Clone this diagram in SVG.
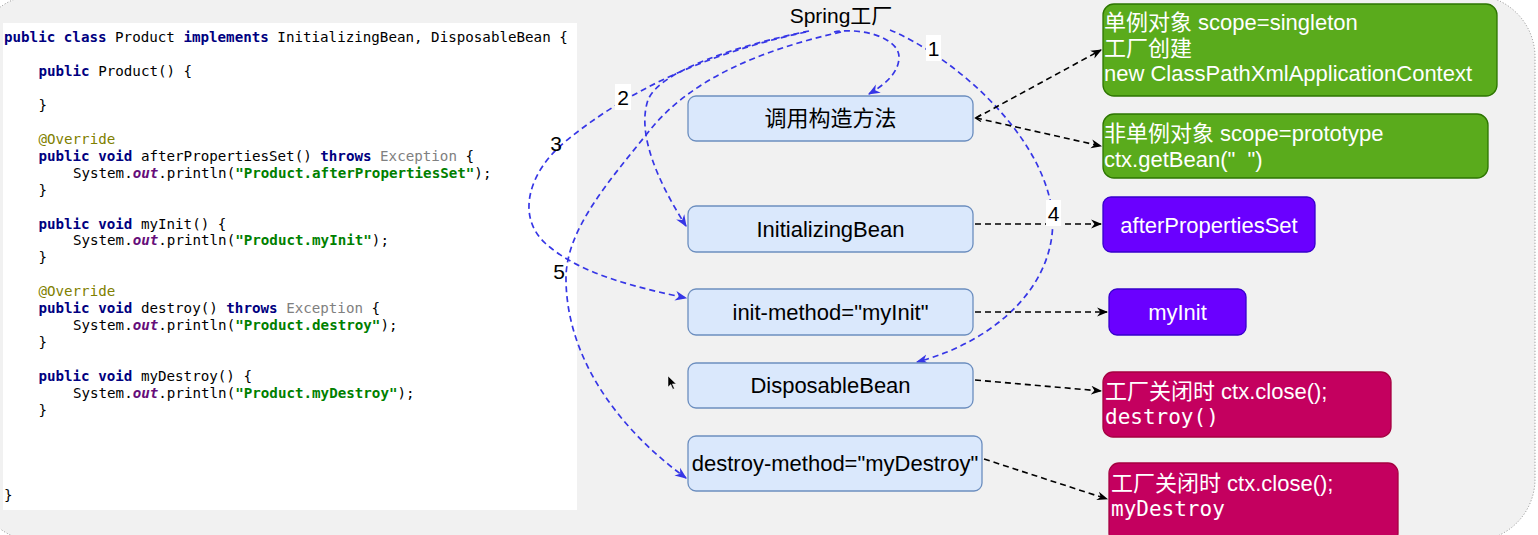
<svg xmlns="http://www.w3.org/2000/svg" width="1538" height="535" viewBox="0 0 1538 535">
<style>
.code{font-family:"DejaVu Sans Mono","Liberation Mono",monospace;font-size:14.2px;fill:#000}
.kw{font-weight:bold;fill:#000080}
.ann{fill:#808000}
.gr{fill:#808080}
.out{font-weight:bold;font-style:italic;fill:#660e7a}
.str{font-weight:bold;fill:#008000}
.bbox{fill:#dae8fc;stroke:#6c8ebf;stroke-width:1.3}
.gbox{fill:#5aab1c;stroke:#2d7600;stroke-width:1.3}
.pbox{fill:#6a00ff;stroke:#3700cc;stroke-width:1.3}
.mbox{fill:#c4005f;stroke:#a50040;stroke-width:1.3}
.t{font-family:"Liberation Sans","Noto Sans CJK SC",sans-serif;font-size:22px;fill:#000}
.w{fill:#fff}
.mono{font-family:"DejaVu Sans Mono","Liberation Mono",monospace;font-size:21px;fill:#fff}
.blue{fill:none;stroke:#3636e6;stroke-width:1.7;stroke-dasharray:6 4}
.blk{fill:none;stroke:#000;stroke-width:1.6;stroke-dasharray:6 4}
.num{font-family:"Liberation Sans",sans-serif;font-size:21px;fill:#000}
</style>
<defs>
<marker id="ab" viewBox="0 0 10 10" refX="9" refY="5" markerWidth="11" markerHeight="11" markerUnits="userSpaceOnUse" orient="auto"><path d="M0,1 L10,5 L0,9 L3,5 z" fill="#000"/></marker>
<marker id="ub" viewBox="0 0 10 10" refX="9" refY="5" markerWidth="12" markerHeight="12" markerUnits="userSpaceOnUse" orient="auto"><path d="M0,1 L10,5 L0,9 L3,5 z" fill="#3636e6"/></marker>
</defs>
<rect x="0" y="0" width="1538" height="535" fill="#fff"/>
<rect x="-25" y="-5" width="1560" height="546" rx="62" fill="#f1f1f1" stroke="#8a8a8a" stroke-width="1" stroke-dasharray="1 2"/>
<g id="code">
<rect x="3" y="23" width="574" height="487" fill="#fff"/>
<text class="code" x="4" y="42"><tspan class="kw">public</tspan> <tspan class="kw">class</tspan> Product <tspan class="kw">implements</tspan> InitializingBean, DisposableBean {</text>
<text class="code" x="38.4" y="75.9"><tspan class="kw">public</tspan> Product() {</text>
<text class="code" x="38.4" y="109.8">}</text>
<text class="code ann" x="38.4" y="143.7">@Override</text>
<text class="code" x="38.4" y="160.7"><tspan class="kw">public</tspan> <tspan class="kw">void</tspan> afterPropertiesSet() <tspan class="kw">throws</tspan> <tspan class="gr">Exception</tspan> {</text>
<text class="code" x="72.9" y="177.6">System.<tspan class="out">out</tspan>.println(<tspan class="str">"Product.afterPropertiesSet"</tspan>);</text>
<text class="code" x="38.4" y="194.6">}</text>
<text class="code" x="38.4" y="228.5"><tspan class="kw">public</tspan> <tspan class="kw">void</tspan> myInit() {</text>
<text class="code" x="72.9" y="245.4">System.<tspan class="out">out</tspan>.println(<tspan class="str">"Product.myInit"</tspan>);</text>
<text class="code" x="38.4" y="262.4">}</text>
<text class="code ann" x="38.4" y="296.3">@Override</text>
<text class="code" x="38.4" y="313.2"><tspan class="kw">public</tspan> <tspan class="kw">void</tspan> destroy() <tspan class="kw">throws</tspan> <tspan class="gr">Exception</tspan> {</text>
<text class="code" x="72.9" y="330.2">System.<tspan class="out">out</tspan>.println(<tspan class="str">"Product.destroy"</tspan>);</text>
<text class="code" x="38.4" y="347.1">}</text>
<text class="code" x="38.4" y="381"><tspan class="kw">public</tspan> <tspan class="kw">void</tspan> myDestroy() {</text>
<text class="code" x="72.9" y="398">System.<tspan class="out">out</tspan>.println(<tspan class="str">"Product.myDestroy"</tspan>);</text>
<text class="code" x="38.4" y="415">}</text>
<text class="code" x="4" y="499.6">}</text>
</g>
<g id="spring">
<text x="841" y="23" text-anchor="middle" font-family="Liberation Sans,Noto Sans CJK SC,sans-serif" font-size="21" fill="#000">Spring工厂</text>
</g>
<g id="connectors">
<path class="blue" d="M834,32 C862,27 899,38 899,57 C899,72 886,84 869,94" marker-end="url(#ub)"/>
<path class="blue" d="M809,31 C740,45 660,70 648,100 C636,135 660,185 686,226" marker-end="url(#ub)"/>
<path class="blue" d="M806,32 C730,48 640,80 566,141 C530,170 515,215 545,243 C580,275 640,288 686,298" marker-end="url(#ub)"/>
<path class="blue" d="M890,30 C950,55 1040,130 1052,210 C1060,280 1000,340 917,362" marker-end="url(#ub)"/>
<path class="blue" d="M841,32 C760,50 690,80 650,130 C610,180 565,230 566,280 C567,360 620,430 686,478" marker-end="url(#ub)"/>
<path class="blk" d="M976,118 L1101,50" marker-end="url(#ab)"/>
<path class="blk" d="M976,118 L1101,146" marker-end="url(#ab)"/>
<path d="M981,114.5 L975.5,118 L981,121.5" fill="none" stroke="#000" stroke-width="1.3"/>
<path class="blk" d="M975,224 L1101,224" marker-end="url(#ab)"/>
<path class="blk" d="M975,312 L1107,312" marker-end="url(#ab)"/>
<path class="blk" d="M975,380 L1101,391" marker-end="url(#ab)"/>
<path class="blk" d="M984,459 L1107,499" marker-end="url(#ab)"/>
<rect x="926" y="35" width="15" height="26" fill="#fff"/>
<text class="num" x="933.5" y="56" text-anchor="middle">1</text>
<rect x="615" y="84" width="16" height="26" fill="#fff"/>
<text class="num" x="623" y="105" text-anchor="middle">2</text>
<text class="num" x="556" y="151" text-anchor="middle">3</text>
<rect x="1046" y="200" width="15" height="26" fill="#fff"/>
<text class="num" x="1053.5" y="221" text-anchor="middle">4</text>
<text class="num" x="559" y="279" text-anchor="middle">5</text>
</g>
<g id="n-construct"><rect class="bbox" x="688" y="96" width="285" height="45" rx="8"/><text class="t" x="830.5" y="126" text-anchor="middle">调用构造方法</text></g>
<g id="n-initbean"><rect class="bbox" x="688" y="206" width="285" height="46" rx="8"/><text class="t" x="830.5" y="236.5" text-anchor="middle">InitializingBean</text></g>
<g id="n-initmethod"><rect class="bbox" x="688" y="289" width="285" height="46" rx="8"/><text class="t" x="830.5" y="319.5" text-anchor="middle">init-method="myInit"</text></g>
<g id="n-dispbean"><rect class="bbox" x="688" y="363" width="285" height="45" rx="8"/><text class="t" x="830.5" y="393" text-anchor="middle">DisposableBean</text></g>
<g id="n-destroymethod"><rect class="bbox" x="688" y="436" width="294" height="55" rx="8"/><text class="t" x="835" y="471" text-anchor="middle">destroy-method="myDestroy"</text></g>
<g id="n-singleton"><rect class="gbox" x="1103" y="4" width="394" height="92" rx="11"/><text class="t w" x="1104" y="30">单例对象 scope=singleton</text><text class="t w" x="1104" y="56">工厂创建</text><text class="t w" x="1104" y="81">new ClassPathXmlApplicationContext</text></g>
<g id="n-prototype"><rect class="gbox" x="1103" y="114" width="385" height="64" rx="11"/><text class="t w" x="1104" y="141">非单例对象 scope=prototype</text><text class="t w" x="1104" y="167">ctx.getBean("&#160;&#160;")</text></g>
<g id="n-afterprops"><rect class="pbox" x="1103" y="197" width="212" height="55" rx="8"/><text class="t w" x="1209" y="232.5" text-anchor="middle">afterPropertiesSet</text></g>
<g id="n-myinit"><rect class="pbox" x="1109" y="289" width="137" height="46" rx="8"/><text class="t w" x="1177.5" y="319.5" text-anchor="middle">myInit</text></g>
<g id="n-destroy"><rect class="mbox" x="1103" y="372" width="288" height="65" rx="10"/><text class="t w" x="1105" y="399">工厂关闭时 ctx.close();</text><text class="mono" x="1105" y="424">destroy()</text></g>
<g id="n-mydestroy"><rect class="mbox" x="1109" y="463" width="289" height="80" rx="10"/><text class="t w" x="1111" y="491">工厂关闭时 ctx.close();</text><text class="mono" x="1111" y="516">myDestroy</text></g>
<path d="M668,376 L668,387 L670.8,384.5 L672.8,389.2 L674.4,388.5 L672.4,383.9 L676.2,383.9 Z" fill="#000" stroke="#fff" stroke-width="0.5"/>
</svg>
